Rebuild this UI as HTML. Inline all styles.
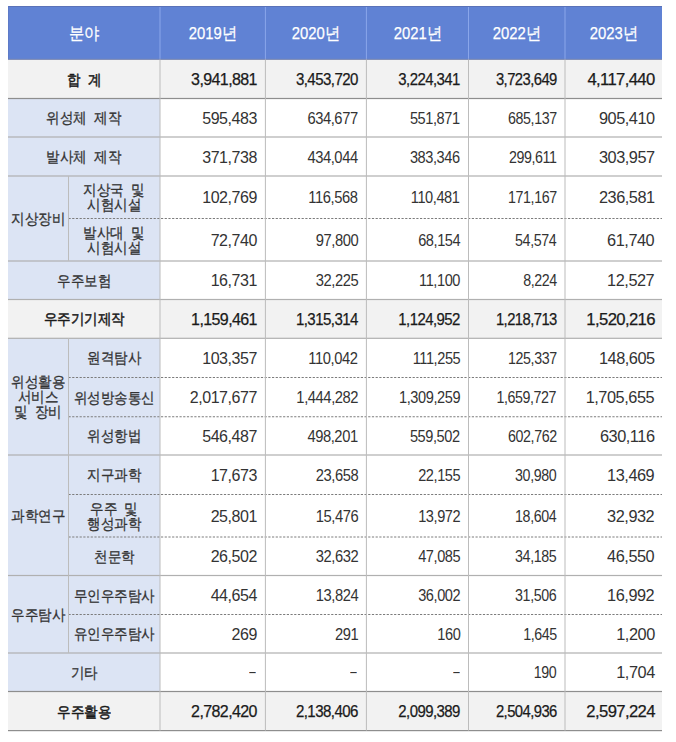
<!DOCTYPE html>
<html><head><meta charset="utf-8"><style>
html,body{margin:0;padding:0;background:#fff;width:676px;height:742px;overflow:hidden;position:relative}
body{font-family:"Liberation Sans",sans-serif;color:#222}
svg.grid{position:absolute;left:0;top:0}
.c{position:absolute;display:flex;align-items:center;justify-content:center;text-align:center;white-space:nowrap}
.h{color:#fff;font-size:16.5px;-webkit-text-stroke:0.25px #fff;padding-top:3px;box-sizing:border-box}
.h span{display:inline-block;transform:scaleX(0.9)}
.k{font-size:15px;line-height:15px;color:#333;letter-spacing:0px;word-spacing:4px;-webkit-text-stroke:0.3px #333}
.k span{display:inline-block;transform:scaleX(0.9)}
.v{font-size:16px;letter-spacing:-0.45px;color:#333}
.v span{display:inline-block;position:relative;top:1px;transform-origin:100% 50%}
.b.k{color:#1a1a1a;-webkit-text-stroke:0.5px #1a1a1a}
.b.v{color:#1a1a1a;-webkit-text-stroke:0.25px #1a1a1a;letter-spacing:-0.6px}
</style></head><body>
<svg class="grid" width="676" height="742" viewBox="0 0 676 742" shape-rendering="geometricPrecision">
<rect x="8" y="6" width="654" height="53.5" fill="#6082d4"/>
<rect x="159.5" y="6" width="1" height="53.5" fill="#8aa6ea"/>
<rect x="264.9" y="6" width="1" height="53.5" fill="#8aa6ea"/>
<rect x="365.9" y="6" width="1" height="53.5" fill="#8aa6ea"/>
<rect x="468" y="6" width="1" height="53.5" fill="#8aa6ea"/>
<rect x="564.5" y="6" width="1" height="53.5" fill="#8aa6ea"/>
<rect x="8" y="6" width="654" height="1" fill="#5a72b8"/>
<rect x="8" y="6" width="0.8" height="53.5" fill="#5d78c4"/>
<rect x="8" y="59.5" width="152" height="671.1" fill="#dce4f4"/>
<rect x="8" y="59.5" width="654" height="39" fill="#f2f2f2"/>
<rect x="8" y="299.5" width="654" height="38.8" fill="#f2f2f2"/>
<rect x="8" y="691.5" width="654" height="39.1" fill="#f2f2f2"/>
<rect x="8" y="58.8" width="654" height="1.1" fill="#7a88b2"/>
<rect x="8" y="97.9" width="654" height="1.2" fill="#8e8e8e"/>
<rect x="8" y="136.4" width="654" height="1.2" fill="#b0b0b0"/>
<rect x="8" y="175.4" width="654" height="1.2" fill="#b0b0b0"/>
<line x1="68.5" y1="218.5" x2="662" y2="218.5" stroke="#7c7c7c" stroke-width="1" stroke-dasharray="2.2 1.5"/>
<rect x="8" y="260.4" width="654" height="1.2" fill="#b0b0b0"/>
<rect x="8" y="298.9" width="654" height="1.2" fill="#b0b0b0"/>
<rect x="8" y="337.7" width="654" height="1.2" fill="#b0b0b0"/>
<line x1="68.5" y1="377.5" x2="662" y2="377.5" stroke="#7c7c7c" stroke-width="1" stroke-dasharray="2.2 1.5"/>
<line x1="68.5" y1="416.75" x2="662" y2="416.75" stroke="#7c7c7c" stroke-width="1" stroke-dasharray="2.2 1.5"/>
<rect x="8" y="454.4" width="654" height="1.2" fill="#b0b0b0"/>
<line x1="68.5" y1="494.5" x2="662" y2="494.5" stroke="#7c7c7c" stroke-width="1" stroke-dasharray="2.2 1.5"/>
<line x1="68.5" y1="537" x2="662" y2="537" stroke="#7c7c7c" stroke-width="1" stroke-dasharray="2.2 1.5"/>
<rect x="8" y="574.9" width="654" height="1.2" fill="#b0b0b0"/>
<line x1="68.5" y1="614.5" x2="662" y2="614.5" stroke="#7c7c7c" stroke-width="1" stroke-dasharray="2.2 1.5"/>
<rect x="8" y="652.4" width="654" height="1.2" fill="#b0b0b0"/>
<rect x="8" y="690.9" width="654" height="1.2" fill="#8e8e8e"/>
<rect x="8" y="730" width="654" height="1.2" fill="#8e8e8e"/>
<rect x="159.5" y="59.5" width="1" height="671.1" fill="#bcbcbc"/>
<rect x="264.9" y="59.5" width="1" height="671.1" fill="#bcbcbc"/>
<rect x="365.9" y="59.5" width="1" height="671.1" fill="#bcbcbc"/>
<rect x="468" y="59.5" width="1" height="671.1" fill="#bcbcbc"/>
<rect x="564.5" y="59.5" width="1" height="671.1" fill="#bcbcbc"/>
<rect x="68.0" y="176" width="1" height="85" fill="#bcbcbc"/>
<rect x="68.0" y="338.3" width="1" height="116.7" fill="#bcbcbc"/>
<rect x="68.0" y="455" width="1" height="120.5" fill="#bcbcbc"/>
<rect x="68.0" y="575.5" width="1" height="77.5" fill="#bcbcbc"/>
</svg>
<div class="c h" style="left:8px;top:6px;width:152px;height:53.5px;"><span>분야</span></div>
<div class="c h" style="left:160px;top:6px;width:105.4px;height:53.5px;"><span>2019년</span></div>
<div class="c h" style="left:265.4px;top:6px;width:101px;height:53.5px;"><span>2020년</span></div>
<div class="c h" style="left:366.4px;top:6px;width:102.1px;height:53.5px;"><span>2021년</span></div>
<div class="c h" style="left:468.5px;top:6px;width:96.5px;height:53.5px;"><span>2022년</span></div>
<div class="c h" style="left:565px;top:6px;width:97px;height:53.5px;"><span>2023년</span></div>
<div class="c b k" style="left:8px;top:59.5px;width:152px;height:39px;"><span>합 계</span></div>
<div class="c b v" style="left:160px;top:59.5px;width:105.4px;height:39px;justify-content:flex-end;padding-right:8.5px;box-sizing:border-box;"><span>3,941,881</span></div>
<div class="c b v" style="left:265.4px;top:59.5px;width:101px;height:39px;justify-content:flex-end;padding-right:8.5px;box-sizing:border-box;"><span style="transform:scaleX(0.94)">3,453,720</span></div>
<div class="c b v" style="left:366.4px;top:59.5px;width:102.1px;height:39px;justify-content:flex-end;padding-right:8.5px;box-sizing:border-box;"><span style="transform:scaleX(0.935)">3,224,341</span></div>
<div class="c b v" style="left:468.5px;top:59.5px;width:96.5px;height:39px;justify-content:flex-end;padding-right:8.5px;box-sizing:border-box;"><span style="transform:scaleX(0.925)">3,723,649</span></div>
<div class="c b v" style="left:565px;top:59.5px;width:97px;height:39px;justify-content:flex-end;padding-right:7.5px;box-sizing:border-box;"><span style="transform:scaleX(1.04)">4,117,440</span></div>
<div class="c n k" style="left:8px;top:98.5px;width:152px;height:38.5px;"><span>위성체 제작</span></div>
<div class="c n v" style="left:160px;top:98.5px;width:105.4px;height:38.5px;justify-content:flex-end;padding-right:8.5px;box-sizing:border-box;"><span>595,483</span></div>
<div class="c n v" style="left:265.4px;top:98.5px;width:101px;height:38.5px;justify-content:flex-end;padding-right:8.5px;box-sizing:border-box;"><span style="transform:scaleX(0.92)">634,677</span></div>
<div class="c n v" style="left:366.4px;top:98.5px;width:102.1px;height:38.5px;justify-content:flex-end;padding-right:8.5px;box-sizing:border-box;"><span style="transform:scaleX(0.91)">551,871</span></div>
<div class="c n v" style="left:468.5px;top:98.5px;width:96.5px;height:38.5px;justify-content:flex-end;padding-right:8.5px;box-sizing:border-box;"><span style="transform:scaleX(0.89)">685,137</span></div>
<div class="c n v" style="left:565px;top:98.5px;width:97px;height:38.5px;justify-content:flex-end;padding-right:7.5px;box-sizing:border-box;"><span style="transform:scaleX(1.02)">905,410</span></div>
<div class="c n k" style="left:8px;top:137px;width:152px;height:39px;"><span>발사체 제작</span></div>
<div class="c n v" style="left:160px;top:137px;width:105.4px;height:39px;justify-content:flex-end;padding-right:8.5px;box-sizing:border-box;"><span>371,738</span></div>
<div class="c n v" style="left:265.4px;top:137px;width:101px;height:39px;justify-content:flex-end;padding-right:8.5px;box-sizing:border-box;"><span style="transform:scaleX(0.92)">434,044</span></div>
<div class="c n v" style="left:366.4px;top:137px;width:102.1px;height:39px;justify-content:flex-end;padding-right:8.5px;box-sizing:border-box;"><span style="transform:scaleX(0.91)">383,346</span></div>
<div class="c n v" style="left:468.5px;top:137px;width:96.5px;height:39px;justify-content:flex-end;padding-right:8.5px;box-sizing:border-box;"><span style="transform:scaleX(0.89)">299,611</span></div>
<div class="c n v" style="left:565px;top:137px;width:97px;height:39px;justify-content:flex-end;padding-right:7.5px;box-sizing:border-box;"><span style="transform:scaleX(1.02)">303,957</span></div>
<div class="c n k g" style="left:8px;top:176px;width:60.5px;height:85px;"><span>지상장비</span></div>
<div class="c n k s" style="left:68.5px;top:176px;width:91.5px;height:42.5px;"><span>지상국 및<br>시험시설</span></div>
<div class="c n v" style="left:160px;top:176px;width:105.4px;height:42.5px;justify-content:flex-end;padding-right:8.5px;box-sizing:border-box;"><span>102,769</span></div>
<div class="c n v" style="left:265.4px;top:176px;width:101px;height:42.5px;justify-content:flex-end;padding-right:8.5px;box-sizing:border-box;"><span style="transform:scaleX(0.92)">116,568</span></div>
<div class="c n v" style="left:366.4px;top:176px;width:102.1px;height:42.5px;justify-content:flex-end;padding-right:8.5px;box-sizing:border-box;"><span style="transform:scaleX(0.91)">110,481</span></div>
<div class="c n v" style="left:468.5px;top:176px;width:96.5px;height:42.5px;justify-content:flex-end;padding-right:8.5px;box-sizing:border-box;"><span style="transform:scaleX(0.89)">171,167</span></div>
<div class="c n v" style="left:565px;top:176px;width:97px;height:42.5px;justify-content:flex-end;padding-right:7.5px;box-sizing:border-box;"><span style="transform:scaleX(1.02)">236,581</span></div>
<div class="c n k s" style="left:68.5px;top:218.5px;width:91.5px;height:42.5px;"><span>발사대 및<br>시험시설</span></div>
<div class="c n v" style="left:160px;top:218.5px;width:105.4px;height:42.5px;justify-content:flex-end;padding-right:8.5px;box-sizing:border-box;"><span>72,740</span></div>
<div class="c n v" style="left:265.4px;top:218.5px;width:101px;height:42.5px;justify-content:flex-end;padding-right:8.5px;box-sizing:border-box;"><span style="transform:scaleX(0.92)">97,800</span></div>
<div class="c n v" style="left:366.4px;top:218.5px;width:102.1px;height:42.5px;justify-content:flex-end;padding-right:8.5px;box-sizing:border-box;"><span style="transform:scaleX(0.91)">68,154</span></div>
<div class="c n v" style="left:468.5px;top:218.5px;width:96.5px;height:42.5px;justify-content:flex-end;padding-right:8.5px;box-sizing:border-box;"><span style="transform:scaleX(0.89)">54,574</span></div>
<div class="c n v" style="left:565px;top:218.5px;width:97px;height:42.5px;justify-content:flex-end;padding-right:7.5px;box-sizing:border-box;"><span style="transform:scaleX(1.02)">61,740</span></div>
<div class="c n k" style="left:8px;top:261px;width:152px;height:38.5px;"><span>우주보험</span></div>
<div class="c n v" style="left:160px;top:261px;width:105.4px;height:38.5px;justify-content:flex-end;padding-right:8.5px;box-sizing:border-box;"><span>16,731</span></div>
<div class="c n v" style="left:265.4px;top:261px;width:101px;height:38.5px;justify-content:flex-end;padding-right:8.5px;box-sizing:border-box;"><span style="transform:scaleX(0.92)">32,225</span></div>
<div class="c n v" style="left:366.4px;top:261px;width:102.1px;height:38.5px;justify-content:flex-end;padding-right:8.5px;box-sizing:border-box;"><span style="transform:scaleX(0.91)">11,100</span></div>
<div class="c n v" style="left:468.5px;top:261px;width:96.5px;height:38.5px;justify-content:flex-end;padding-right:8.5px;box-sizing:border-box;"><span style="transform:scaleX(0.89)">8,224</span></div>
<div class="c n v" style="left:565px;top:261px;width:97px;height:38.5px;justify-content:flex-end;padding-right:7.5px;box-sizing:border-box;"><span style="transform:scaleX(1.02)">12,527</span></div>
<div class="c b k" style="left:8px;top:299.5px;width:152px;height:38.8px;"><span>우주기기제작</span></div>
<div class="c b v" style="left:160px;top:299.5px;width:105.4px;height:38.8px;justify-content:flex-end;padding-right:8.5px;box-sizing:border-box;"><span>1,159,461</span></div>
<div class="c b v" style="left:265.4px;top:299.5px;width:101px;height:38.8px;justify-content:flex-end;padding-right:8.5px;box-sizing:border-box;"><span style="transform:scaleX(0.94)">1,315,314</span></div>
<div class="c b v" style="left:366.4px;top:299.5px;width:102.1px;height:38.8px;justify-content:flex-end;padding-right:8.5px;box-sizing:border-box;"><span style="transform:scaleX(0.935)">1,124,952</span></div>
<div class="c b v" style="left:468.5px;top:299.5px;width:96.5px;height:38.8px;justify-content:flex-end;padding-right:8.5px;box-sizing:border-box;"><span style="transform:scaleX(0.925)">1,218,713</span></div>
<div class="c b v" style="left:565px;top:299.5px;width:97px;height:38.8px;justify-content:flex-end;padding-right:7.5px;box-sizing:border-box;"><span style="transform:scaleX(1.04)">1,520,216</span></div>
<div class="c n k g" style="left:8px;top:338.3px;width:60.5px;height:116.7px;"><span>위성활용<br>서비스<br>및 장비</span></div>
<div class="c n k s" style="left:68.5px;top:338.3px;width:91.5px;height:39.2px;"><span>원격탐사</span></div>
<div class="c n v" style="left:160px;top:338.3px;width:105.4px;height:39.2px;justify-content:flex-end;padding-right:8.5px;box-sizing:border-box;"><span>103,357</span></div>
<div class="c n v" style="left:265.4px;top:338.3px;width:101px;height:39.2px;justify-content:flex-end;padding-right:8.5px;box-sizing:border-box;"><span style="transform:scaleX(0.92)">110,042</span></div>
<div class="c n v" style="left:366.4px;top:338.3px;width:102.1px;height:39.2px;justify-content:flex-end;padding-right:8.5px;box-sizing:border-box;"><span style="transform:scaleX(0.91)">111,255</span></div>
<div class="c n v" style="left:468.5px;top:338.3px;width:96.5px;height:39.2px;justify-content:flex-end;padding-right:8.5px;box-sizing:border-box;"><span style="transform:scaleX(0.89)">125,337</span></div>
<div class="c n v" style="left:565px;top:338.3px;width:97px;height:39.2px;justify-content:flex-end;padding-right:7.5px;box-sizing:border-box;"><span style="transform:scaleX(1.02)">148,605</span></div>
<div class="c n k s" style="left:68.5px;top:377.5px;width:91.5px;height:39.25px;"><span>위성방송통신</span></div>
<div class="c n v" style="left:160px;top:377.5px;width:105.4px;height:39.25px;justify-content:flex-end;padding-right:8.5px;box-sizing:border-box;"><span>2,017,677</span></div>
<div class="c n v" style="left:265.4px;top:377.5px;width:101px;height:39.25px;justify-content:flex-end;padding-right:8.5px;box-sizing:border-box;"><span style="transform:scaleX(0.92)">1,444,282</span></div>
<div class="c n v" style="left:366.4px;top:377.5px;width:102.1px;height:39.25px;justify-content:flex-end;padding-right:8.5px;box-sizing:border-box;"><span style="transform:scaleX(0.91)">1,309,259</span></div>
<div class="c n v" style="left:468.5px;top:377.5px;width:96.5px;height:39.25px;justify-content:flex-end;padding-right:8.5px;box-sizing:border-box;"><span style="transform:scaleX(0.89)">1,659,727</span></div>
<div class="c n v" style="left:565px;top:377.5px;width:97px;height:39.25px;justify-content:flex-end;padding-right:7.5px;box-sizing:border-box;"><span style="transform:scaleX(1.02)">1,705,655</span></div>
<div class="c n k s" style="left:68.5px;top:416.75px;width:91.5px;height:38.25px;"><span>위성항법</span></div>
<div class="c n v" style="left:160px;top:416.75px;width:105.4px;height:38.25px;justify-content:flex-end;padding-right:8.5px;box-sizing:border-box;"><span>546,487</span></div>
<div class="c n v" style="left:265.4px;top:416.75px;width:101px;height:38.25px;justify-content:flex-end;padding-right:8.5px;box-sizing:border-box;"><span style="transform:scaleX(0.92)">498,201</span></div>
<div class="c n v" style="left:366.4px;top:416.75px;width:102.1px;height:38.25px;justify-content:flex-end;padding-right:8.5px;box-sizing:border-box;"><span style="transform:scaleX(0.91)">559,502</span></div>
<div class="c n v" style="left:468.5px;top:416.75px;width:96.5px;height:38.25px;justify-content:flex-end;padding-right:8.5px;box-sizing:border-box;"><span style="transform:scaleX(0.89)">602,762</span></div>
<div class="c n v" style="left:565px;top:416.75px;width:97px;height:38.25px;justify-content:flex-end;padding-right:7.5px;box-sizing:border-box;"><span style="transform:scaleX(1.02)">630,116</span></div>
<div class="c n k g" style="left:8px;top:455px;width:60.5px;height:120.5px;"><span>과학연구</span></div>
<div class="c n k s" style="left:68.5px;top:455px;width:91.5px;height:39.5px;"><span>지구과학</span></div>
<div class="c n v" style="left:160px;top:455px;width:105.4px;height:39.5px;justify-content:flex-end;padding-right:8.5px;box-sizing:border-box;"><span>17,673</span></div>
<div class="c n v" style="left:265.4px;top:455px;width:101px;height:39.5px;justify-content:flex-end;padding-right:8.5px;box-sizing:border-box;"><span style="transform:scaleX(0.92)">23,658</span></div>
<div class="c n v" style="left:366.4px;top:455px;width:102.1px;height:39.5px;justify-content:flex-end;padding-right:8.5px;box-sizing:border-box;"><span style="transform:scaleX(0.91)">22,155</span></div>
<div class="c n v" style="left:468.5px;top:455px;width:96.5px;height:39.5px;justify-content:flex-end;padding-right:8.5px;box-sizing:border-box;"><span style="transform:scaleX(0.89)">30,980</span></div>
<div class="c n v" style="left:565px;top:455px;width:97px;height:39.5px;justify-content:flex-end;padding-right:7.5px;box-sizing:border-box;"><span style="transform:scaleX(1.02)">13,469</span></div>
<div class="c n k s" style="left:68.5px;top:494.5px;width:91.5px;height:42.5px;"><span>우주 및<br>행성과학</span></div>
<div class="c n v" style="left:160px;top:494.5px;width:105.4px;height:42.5px;justify-content:flex-end;padding-right:8.5px;box-sizing:border-box;"><span>25,801</span></div>
<div class="c n v" style="left:265.4px;top:494.5px;width:101px;height:42.5px;justify-content:flex-end;padding-right:8.5px;box-sizing:border-box;"><span style="transform:scaleX(0.92)">15,476</span></div>
<div class="c n v" style="left:366.4px;top:494.5px;width:102.1px;height:42.5px;justify-content:flex-end;padding-right:8.5px;box-sizing:border-box;"><span style="transform:scaleX(0.91)">13,972</span></div>
<div class="c n v" style="left:468.5px;top:494.5px;width:96.5px;height:42.5px;justify-content:flex-end;padding-right:8.5px;box-sizing:border-box;"><span style="transform:scaleX(0.89)">18,604</span></div>
<div class="c n v" style="left:565px;top:494.5px;width:97px;height:42.5px;justify-content:flex-end;padding-right:7.5px;box-sizing:border-box;"><span style="transform:scaleX(1.02)">32,932</span></div>
<div class="c n k s" style="left:68.5px;top:537px;width:91.5px;height:38.5px;"><span>천문학</span></div>
<div class="c n v" style="left:160px;top:537px;width:105.4px;height:38.5px;justify-content:flex-end;padding-right:8.5px;box-sizing:border-box;"><span>26,502</span></div>
<div class="c n v" style="left:265.4px;top:537px;width:101px;height:38.5px;justify-content:flex-end;padding-right:8.5px;box-sizing:border-box;"><span style="transform:scaleX(0.92)">32,632</span></div>
<div class="c n v" style="left:366.4px;top:537px;width:102.1px;height:38.5px;justify-content:flex-end;padding-right:8.5px;box-sizing:border-box;"><span style="transform:scaleX(0.91)">47,085</span></div>
<div class="c n v" style="left:468.5px;top:537px;width:96.5px;height:38.5px;justify-content:flex-end;padding-right:8.5px;box-sizing:border-box;"><span style="transform:scaleX(0.89)">34,185</span></div>
<div class="c n v" style="left:565px;top:537px;width:97px;height:38.5px;justify-content:flex-end;padding-right:7.5px;box-sizing:border-box;"><span style="transform:scaleX(1.02)">46,550</span></div>
<div class="c n k g" style="left:8px;top:575.5px;width:60.5px;height:77.5px;"><span>우주탐사</span></div>
<div class="c n k s" style="left:68.5px;top:575.5px;width:91.5px;height:39px;"><span>무인우주탐사</span></div>
<div class="c n v" style="left:160px;top:575.5px;width:105.4px;height:39px;justify-content:flex-end;padding-right:8.5px;box-sizing:border-box;"><span>44,654</span></div>
<div class="c n v" style="left:265.4px;top:575.5px;width:101px;height:39px;justify-content:flex-end;padding-right:8.5px;box-sizing:border-box;"><span style="transform:scaleX(0.92)">13,824</span></div>
<div class="c n v" style="left:366.4px;top:575.5px;width:102.1px;height:39px;justify-content:flex-end;padding-right:8.5px;box-sizing:border-box;"><span style="transform:scaleX(0.91)">36,002</span></div>
<div class="c n v" style="left:468.5px;top:575.5px;width:96.5px;height:39px;justify-content:flex-end;padding-right:8.5px;box-sizing:border-box;"><span style="transform:scaleX(0.89)">31,506</span></div>
<div class="c n v" style="left:565px;top:575.5px;width:97px;height:39px;justify-content:flex-end;padding-right:7.5px;box-sizing:border-box;"><span style="transform:scaleX(1.02)">16,992</span></div>
<div class="c n k s" style="left:68.5px;top:614.5px;width:91.5px;height:38.5px;"><span>유인우주탐사</span></div>
<div class="c n v" style="left:160px;top:614.5px;width:105.4px;height:38.5px;justify-content:flex-end;padding-right:8.5px;box-sizing:border-box;"><span>269</span></div>
<div class="c n v" style="left:265.4px;top:614.5px;width:101px;height:38.5px;justify-content:flex-end;padding-right:8.5px;box-sizing:border-box;"><span style="transform:scaleX(0.92)">291</span></div>
<div class="c n v" style="left:366.4px;top:614.5px;width:102.1px;height:38.5px;justify-content:flex-end;padding-right:8.5px;box-sizing:border-box;"><span style="transform:scaleX(0.91)">160</span></div>
<div class="c n v" style="left:468.5px;top:614.5px;width:96.5px;height:38.5px;justify-content:flex-end;padding-right:8.5px;box-sizing:border-box;"><span style="transform:scaleX(0.89)">1,645</span></div>
<div class="c n v" style="left:565px;top:614.5px;width:97px;height:38.5px;justify-content:flex-end;padding-right:7.5px;box-sizing:border-box;"><span style="transform:scaleX(1.02)">1,200</span></div>
<div class="c n k" style="left:8px;top:653px;width:152px;height:38.5px;"><span>기타</span></div>
<div class="c n v" style="left:160px;top:653px;width:105.4px;height:38.5px;justify-content:flex-end;padding-right:8.5px;box-sizing:border-box;"><span style="transform:scaleX(0.72);top:0px;margin-right:1px">–</span></div>
<div class="c n v" style="left:265.4px;top:653px;width:101px;height:38.5px;justify-content:flex-end;padding-right:8.5px;box-sizing:border-box;"><span style="transform:scaleX(0.72);top:0px;margin-right:1px">–</span></div>
<div class="c n v" style="left:366.4px;top:653px;width:102.1px;height:38.5px;justify-content:flex-end;padding-right:8.5px;box-sizing:border-box;"><span style="transform:scaleX(0.72);top:0px;margin-right:1px">–</span></div>
<div class="c n v" style="left:468.5px;top:653px;width:96.5px;height:38.5px;justify-content:flex-end;padding-right:8.5px;box-sizing:border-box;"><span style="transform:scaleX(0.89)">190</span></div>
<div class="c n v" style="left:565px;top:653px;width:97px;height:38.5px;justify-content:flex-end;padding-right:7.5px;box-sizing:border-box;"><span style="transform:scaleX(1.02)">1,704</span></div>
<div class="c b k" style="left:8px;top:691.5px;width:152px;height:39.1px;"><span>우주활용</span></div>
<div class="c b v" style="left:160px;top:691.5px;width:105.4px;height:39.1px;justify-content:flex-end;padding-right:8.5px;box-sizing:border-box;"><span>2,782,420</span></div>
<div class="c b v" style="left:265.4px;top:691.5px;width:101px;height:39.1px;justify-content:flex-end;padding-right:8.5px;box-sizing:border-box;"><span style="transform:scaleX(0.94)">2,138,406</span></div>
<div class="c b v" style="left:366.4px;top:691.5px;width:102.1px;height:39.1px;justify-content:flex-end;padding-right:8.5px;box-sizing:border-box;"><span style="transform:scaleX(0.935)">2,099,389</span></div>
<div class="c b v" style="left:468.5px;top:691.5px;width:96.5px;height:39.1px;justify-content:flex-end;padding-right:8.5px;box-sizing:border-box;"><span style="transform:scaleX(0.925)">2,504,936</span></div>
<div class="c b v" style="left:565px;top:691.5px;width:97px;height:39.1px;justify-content:flex-end;padding-right:7.5px;box-sizing:border-box;"><span style="transform:scaleX(1.04)">2,597,224</span></div>
</body></html>
